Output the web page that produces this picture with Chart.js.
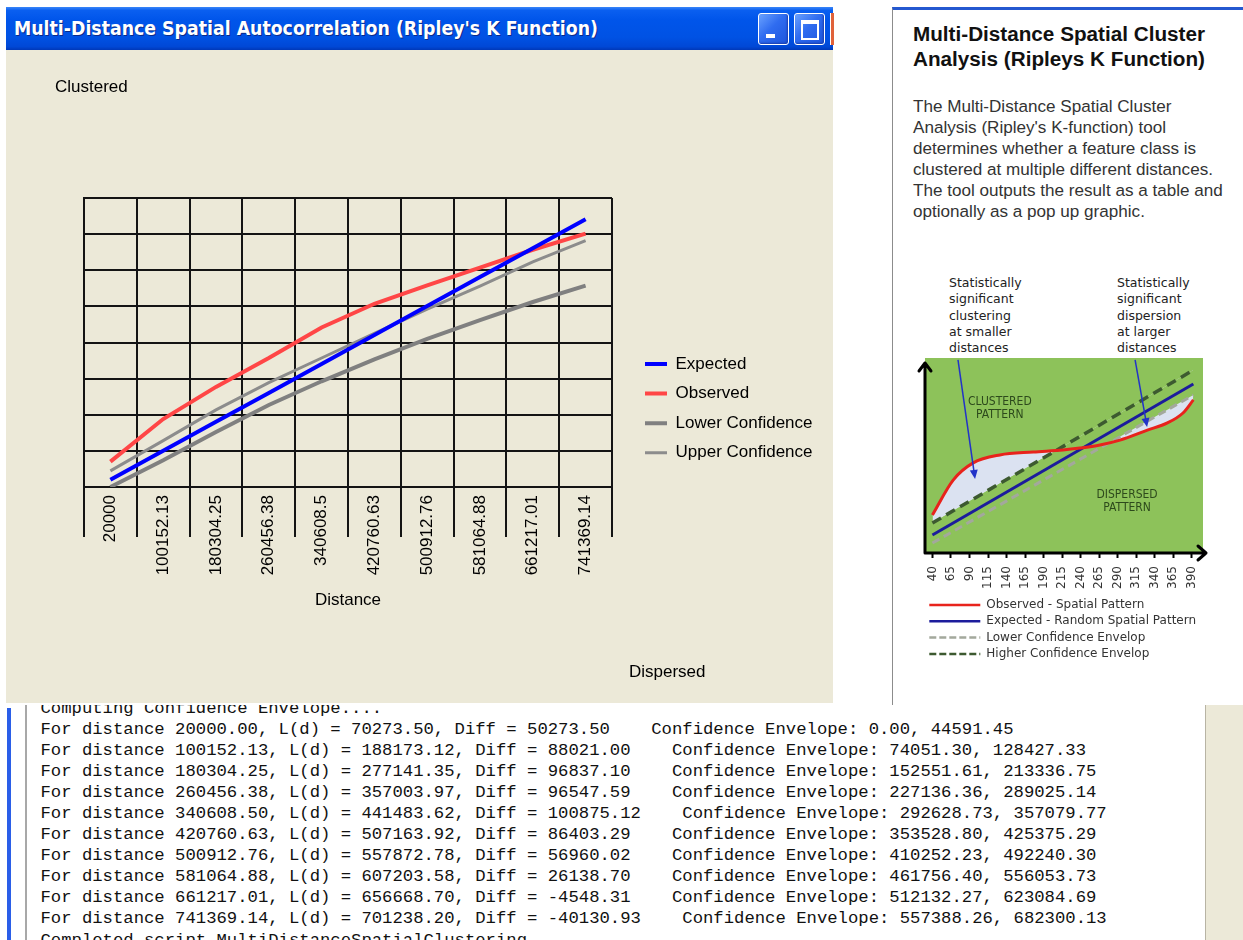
<!DOCTYPE html>
<html>
<head>
<meta charset="utf-8">
<title>Multi-Distance Spatial Autocorrelation (Ripley's K Function)</title>
<script src="https://cdn.jsdelivr.net/npm/chart.js@4.4.1/dist/chart.umd.min.js"></script>
<style>
  html, body { margin: 0; padding: 0; background: #fff; }
  body { width: 1243px; height: 940px; position: relative; overflow: hidden; font-family: "Liberation Sans", Arial, sans-serif; }
  .win { position: absolute; left: 6px; top: 7px; width: 827px; height: 696px; background: #ECE9D8; }
  .titlebar { position: absolute; left: 0; top: 0; width: 827px; height: 43px;
    background: linear-gradient(#3a86f8 0%, #0a5ff0 8%, #0055ea 30%, #0052e4 70%, #0048d6 92%, #0038b8 100%); }
  .titletext { position: absolute; left: 8px; top: 10px; color: #fff; white-space: nowrap;
    font: bold 19.3px "DejaVu Sans Condensed", "DejaVu Sans", sans-serif; text-shadow: 1px 1px 0 #0a2a8a; }
  .btn { position: absolute; top: 6px; width: 29px; height: 30px; border: 1.5px solid #fff; border-radius: 3px;
    background: linear-gradient(135deg, #6aa2ff 0%, #2f6cf0 45%, #1d55dc 100%); box-shadow: inset -1px -1px 2px #1a3fb0; }
  .btn.min { left: 752px; }
  .btn.max { left: 788px; }
  .btn.min i { position: absolute; left: 7px; top: 20px; width: 9px; height: 4px; background: #fff; }
  .btn.max i { position: absolute; left: 6px; top: 6px; width: 14px; height: 14px; border: 2px solid #fff; border-top-width: 4px; }
  .closeedge { position: absolute; left: 824px; top: 6px; width: 3px; height: 32px; background: #e0623a; border-left: 1.5px solid #fff; }
  #kChart { position: absolute; left: 0; top: 43px; }
  .corner { position: absolute; font: 17px "Liberation Sans", Arial, sans-serif; color: #000; }
  .panel { position: absolute; left: 892px; top: 7px; width: 351px; height: 698px; background: #fff;
    border-left: 1.5px solid #8c8c8c; border-top: 3px solid #2458d0; }
  .panel h1 { position: absolute; left: 20px; top: 11px; margin: 0; font: bold 20.7px "Liberation Sans", Arial, sans-serif; line-height: 25px; color: #111; white-space: nowrap; }
  .panel p { position: absolute; left: 20px; top: 86px; margin: 0; font: 17.1px "Liberation Sans", Arial, sans-serif; line-height: 21px; color: #333; white-space: nowrap; }
  .note { position: absolute; font: 12.5px "DejaVu Sans", sans-serif; line-height: 16.3px; color: #222; white-space: nowrap; }
  #conceptChart { position: absolute; left: 900px; top: 350px; }
  .console { position: absolute; left: 0; top: 705px; width: 1243px; height: 235px; background: #fff; overflow: hidden; }
  .console .bar { position: absolute; left: 7px; top: 3px; width: 4px; height: 240px; background: #2a5ee8; }
  .console .rule { position: absolute; left: 25px; top: 0; width: 2px; height: 240px; background: #a8a8a8; }
  .console .side { position: absolute; left: 1205px; top: 0; width: 38px; height: 240px; background: #ECE9D8; border-left: 1px solid #b8b4a4; }
  .console pre { position: absolute; left: 40.5px; top: -7.5px; margin: 0; font: 17.25px "Liberation Mono", "Courier New", monospace; line-height: 21.1px; color: #111; }
</style>
</head>
<body>
<div class="win">
  <div class="titlebar">
    <div class="titletext">Multi-Distance Spatial Autocorrelation (Ripley's K Function)</div>
    <div class="btn min"><i></i></div>
    <div class="btn max"><i></i></div>
    <div class="closeedge"></div>
  </div>
  <canvas id="kChart" width="827" height="653"></canvas>
  <div class="corner" style="left:49px; top:70px;">Clustered</div>
  <div class="corner" style="left:623px; top:655px;">Dispersed</div>
</div>

<div class="panel">
  <h1>Multi-Distance Spatial Cluster<br>Analysis (Ripleys K Function)</h1>
  <p>The Multi-Distance Spatial Cluster<br>Analysis (Ripley's K-function) tool<br>determines whether a feature class is<br>clustered at multiple different distances.<br>The tool outputs the result as a table and<br>optionally as a pop up graphic.</p>
</div>
<div class="note" style="left:949px; top:275px;">Statistically<br>significant<br>clustering<br>at smaller<br>distances</div>
<div class="note" style="left:1117px; top:275px;">Statistically<br>significant<br>dispersion<br>at larger<br>distances</div>
<canvas id="conceptChart" width="335" height="320"></canvas>

<div class="console">
  <div class="bar"></div>
  <div class="rule"></div>
  <div class="side"></div>
  <pre id="log"></pre>
</div>

<script>
// Ripley's K results: distance bands, observed L(d), difference and the confidence envelope
const distances  = [20000.00, 100152.13, 180304.25, 260456.38, 340608.50, 420760.63, 500912.76, 581064.88, 661217.01, 741369.14];
const observedL  = [70273.50, 188173.12, 277141.35, 357003.97, 441483.62, 507163.92, 557872.78, 607203.58, 656668.70, 701238.20];
const diffValues = [50273.50, 88021.00, 96837.10, 96547.59, 100875.12, 86403.29, 56960.02, 26138.70, -4548.31, -40130.93];
const lowerEnv   = [0.00, 74051.30, 152551.61, 227136.36, 292628.73, 353528.80, 410252.23, 461756.40, 512132.27, 557388.26];
const upperEnv   = [44591.45, 128427.33, 213336.75, 289025.14, 357079.77, 425375.29, 492240.30, 556053.73, 623084.69, 682300.13];
// Axis tick labels are the distances as the tool prints them
const distanceLabels = distances.map(d => String(d));
// Expected L(d) under complete spatial randomness equals the distance itself
const expectedL = distances;

// Concept diagram (help panel): distance ticks and sketched curves
const conceptTicks   = [40, 65, 90, 115, 140, 165, 190, 215, 240, 265, 290, 315, 340, 365, 390];
const conceptObsDist = [40, 68, 95, 131, 176, 216, 239, 266, 293, 330, 357, 378, 392];
const conceptObsK    = [19.5, 37.4, 46.2, 50.3, 51.8, 52.8, 53.8, 55.4, 57.9, 63.0, 66.7, 71.8, 78.5];
const conceptLineDist = [40, 392];
const conceptExpK    = [9.2, 86.7];
const conceptLowK    = [5.1, 81.0];
const conceptHighK   = [15.4, 93.8];

// Console log text
const logHead = 'Computing Confidence Envelope....';
const logTail = 'Completed script MultiDistanceSpatialClustering...';
const logLines = distances.map((d, i) =>
  'For distance ' + d.toFixed(2) + ', L(d) = ' + observedL[i].toFixed(2) + ', Diff = ' + diffValues[i].toFixed(2) +
  '    Confidence Envelope: ' + lowerEnv[i].toFixed(2) + ', ' + upperEnv[i].toFixed(2));
document.getElementById('log').textContent = [logHead].concat(logLines, [logTail]).join('\n');

const UI_FONT = '"Liberation Sans", Arial, sans-serif';
const GRID = '#141414';

// Let the legend text run to the canvas edge instead of being clipped to the legend box
const legendRoom = {
  id: 'legendRoom',
  afterLayout(chart) {
    const lg = chart.legend;
    if (lg) { lg.right = chart.width; lg.width = lg.right - lg.left; }
  }
};

new Chart(document.getElementById('kChart'), {
  type: 'line',
  data: {
    labels: distanceLabels,
    datasets: [
      { label: 'Expected', data: expectedL, borderColor: '#0000ff', backgroundColor: '#0000ff', borderWidth: 4 },
      { label: 'Observed', data: observedL, borderColor: '#ff4646', backgroundColor: '#ff4646', borderWidth: 4 },
      { label: 'Lower Confidence', data: lowerEnv, borderColor: '#808080', backgroundColor: '#808080', borderWidth: 4 },
      { label: 'Upper Confidence', data: upperEnv, borderColor: '#8c8c8c', backgroundColor: '#8c8c8c', borderWidth: 3 }
    ]
  },
  options: {
    responsive: false,
    animation: false,
    devicePixelRatio: 1,
    elements: { point: { radius: 0, hoverRadius: 0 }, line: { tension: 0, fill: false } },
    layout: { padding: { top: 148, left: 78, right: 40.6, bottom: 84.2 } },
    plugins: {
      tooltip: { enabled: false },
      legend: {
        position: 'right',
        align: 'center',
        maxWidth: 160,
        labels: {
          usePointStyle: true, pointStyle: 'line', pointStyleWidth: 22,
          padding: 12.6, color: '#000', font: { family: UI_FONT, size: 17 }
        }
      }
    },
    scales: {
      x: {
        type: 'category',
        offset: true,
        grid: { offset: true, color: GRID, lineWidth: 2, tickLength: 50, tickColor: GRID, tickWidth: 2 },
        border: { color: GRID, width: 2 },
        ticks: { autoSkip: false, minRotation: 90, maxRotation: 90, padding: -42, color: '#000', font: { family: UI_FONT, size: 17 } },
        title: { display: true, text: 'Distance', color: '#000', font: { family: UI_FONT, size: 17 }, padding: { top: 20, bottom: 8.6 } },
        afterFit(scale) { scale.height = 131.8; }
      },
      y: {
        min: 0, max: 800000,
        ticks: { display: false, stepSize: 100000 },
        grid: { color: GRID, lineWidth: 2, drawTicks: false },
        border: { color: GRID, width: 2 },
        afterFit(scale) { scale.width = 0; }
      },
      legendGap: {
        type: 'linear', position: 'right', display: true,
        ticks: { display: false }, grid: { display: false }, border: { display: false },
        afterFit(scale) { scale.width = 20.4; }
      }
    }
  },
  plugins: [legendRoom]
});

// Concept diagram decorations: green field, arrowed axes, region labels and pointers
const conceptNotes = [
  { lines: ['CLUSTERED', 'PATTERN'], at: [131, 77.4] },
  { lines: ['DISPERSED', 'PATTERN'], at: [302.6, 29.7] }
];
const conceptPointers = [
  { from: [74.5, 99], to: [97.5, 38] },
  { from: [313.4, 99], to: [329.6, 64.6] }
];
const conceptDecor = {
  id: 'conceptDecor',
  beforeDraw(chart) {
    const { ctx, chartArea: a } = chart;
    ctx.save();
    ctx.fillStyle = '#8dc25a';
    ctx.fillRect(a.left, a.top, a.right - a.left, a.bottom - a.top);
    ctx.restore();
  },
  afterDatasetsDraw(chart) {
    const { ctx, chartArea: a, scales: { x, y } } = chart;
    ctx.save();
    // pattern labels
    ctx.fillStyle = '#2d4a1c';
    ctx.font = '12px "DejaVu Sans Condensed", "DejaVu Sans", sans-serif';
    ctx.textAlign = 'center';
    ctx.textBaseline = 'middle';
    conceptNotes.forEach(n => {
      const px = x.getPixelForValue(n.at[0]);
      const py = y.getPixelForValue(n.at[1]);
      n.lines.forEach((t, i) => ctx.fillText(t, px, py + i * 13));
    });
    // pointers from the notes above the plot
    ctx.strokeStyle = '#2233c8';
    ctx.fillStyle = '#2233c8';
    ctx.lineWidth = 1.5;
    conceptPointers.forEach(p => {
      const x0 = x.getPixelForValue(p.from[0]), y0 = y.getPixelForValue(p.from[1]);
      const x1 = x.getPixelForValue(p.to[0]), y1 = y.getPixelForValue(p.to[1]);
      const ang = Math.atan2(y1 - y0, x1 - x0);
      ctx.beginPath(); ctx.moveTo(x0, y0); ctx.lineTo(x1 - 6 * Math.cos(ang), y1 - 6 * Math.sin(ang)); ctx.stroke();
      ctx.beginPath();
      ctx.moveTo(x1, y1);
      ctx.lineTo(x1 - 9 * Math.cos(ang) + 4 * Math.sin(ang), y1 - 9 * Math.sin(ang) - 4 * Math.cos(ang));
      ctx.lineTo(x1 - 9 * Math.cos(ang) - 4 * Math.sin(ang), y1 - 9 * Math.sin(ang) + 4 * Math.cos(ang));
      ctx.closePath(); ctx.fill();
    });
    // axes with open arrowheads
    ctx.strokeStyle = '#000';
    ctx.lineWidth = 3;
    ctx.lineCap = 'round';
    ctx.lineJoin = 'round';
    ctx.beginPath();
    ctx.moveTo(a.left, a.bottom); ctx.lineTo(a.left, a.top + 5);
    ctx.moveTo(a.left - 6, a.top + 13); ctx.lineTo(a.left, a.top + 5); ctx.lineTo(a.left + 6, a.top + 13);
    ctx.moveTo(a.left, a.bottom); ctx.lineTo(a.right + 3, a.bottom);
    ctx.moveTo(a.right - 5, a.bottom - 7); ctx.lineTo(a.right + 3, a.bottom); ctx.lineTo(a.right - 5, a.bottom + 7);
    ctx.stroke();
    ctx.restore();
  }
};

const toPoints = (xs, ys) => xs.map((v, i) => ({ x: v, y: ys[i] }));
const SHADE = 'rgba(224, 227, 251, 0.94)';
const NONE = 'rgba(0, 0, 0, 0)';

new Chart(document.getElementById('conceptChart'), {
  type: 'line',
  data: {
    datasets: [
      { label: 'Observed - Spatial Pattern', data: toPoints(conceptObsDist, conceptObsK), borderColor: '#e8231c', backgroundColor: SHADE,
        borderWidth: 3, cubicInterpolationMode: 'monotone', fill: { target: 3, above: SHADE, below: NONE } },
      { label: 'Expected - Random Spatial Pattern', data: toPoints(conceptLineDist, conceptExpK), borderColor: '#1c1c9c', backgroundColor: '#1c1c9c', borderWidth: 3 },
      { label: 'Lower Confidence Envelop', data: toPoints(conceptLineDist, conceptLowK), borderColor: '#a3a89c', backgroundColor: SHADE,
        borderWidth: 3, borderDash: [8, 5], fill: { target: 0, above: SHADE, below: NONE } },
      { label: 'Higher Confidence Envelop', data: toPoints(conceptLineDist, conceptHighK), borderColor: '#3d5a30', backgroundColor: '#3d5a30',
        borderWidth: 3.5, borderDash: [10, 6] }
    ]
  },
  options: {
    responsive: false,
    animation: false,
    devicePixelRatio: 1,
    elements: { point: { radius: 0, hoverRadius: 0 }, line: { tension: 0 } },
    layout: { padding: { top: 8, left: 25, right: 32, bottom: 5.3 } },
    plugins: {
      tooltip: { enabled: false },
      filler: { drawTime: 'beforeDatasetsDraw' },
      legend: {
        position: 'bottom',
        align: 'start',
        maxHeight: 70,
        labels: {
          usePointStyle: true, pointStyle: 'line', pointStyleWidth: 51,
          padding: 4.3, color: '#333', font: { family: '"DejaVu Sans", sans-serif', size: 12 },
          generateLabels(chart) {
            const items = Chart.defaults.plugins.legend.labels.generateLabels(chart);
            items.forEach(it => {
              const ds = chart.data.datasets[it.datasetIndex];
              it.lineDash = ds.borderDash ? [7, 3] : [];
              it.lineWidth = 2.5;
              it.strokeStyle = ds.borderColor;
            });
            return items;
          }
        }
      }
    },
    scales: {
      x: {
        type: 'linear', min: 30, max: 405,
        afterBuildTicks(scale) { scale.ticks = conceptTicks.map(v => ({ value: v })); },
        grid: { drawOnChartArea: false, tickLength: 5, tickColor: '#000', tickWidth: 2 },
        border: { display: false },
        ticks: { autoSkip: false, minRotation: 90, maxRotation: 90, padding: 8, color: '#333',
          font: { family: '"DejaVu Sans", sans-serif', size: 12 } },
        afterFit(scale) { scale.height = 41.7; }
      },
      y: { display: false, min: 0, max: 100 }
    }
  },
  plugins: [conceptDecor]
});
</script>
</body>
</html>
